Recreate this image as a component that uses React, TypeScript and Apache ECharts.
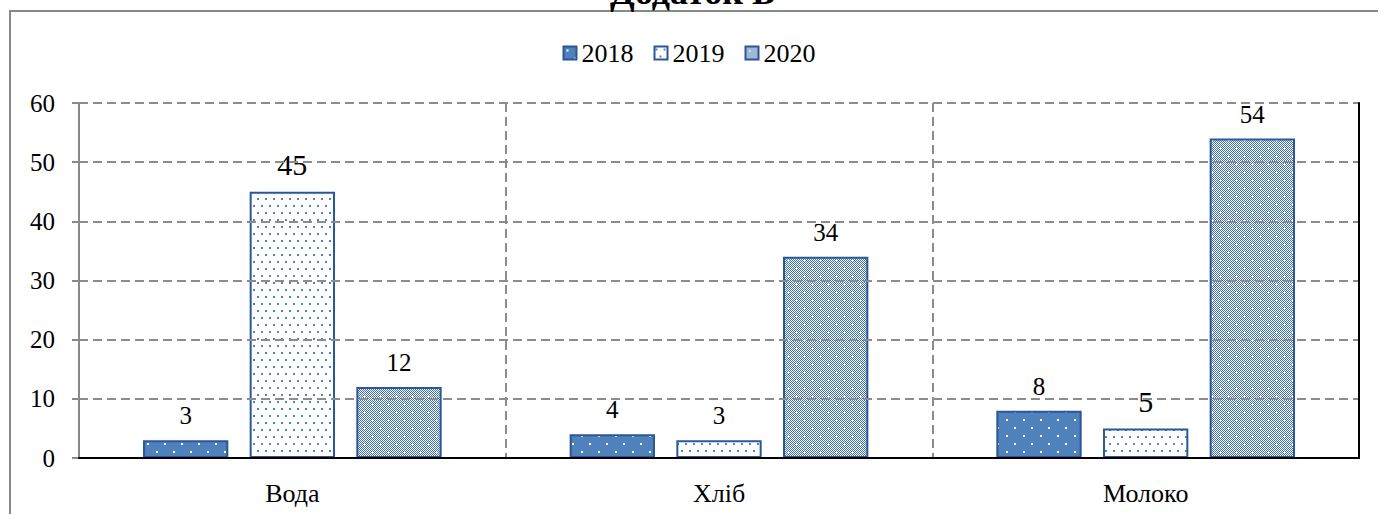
import React, { useEffect, useRef } from "react";
import * as echarts from "echarts";

const categories = ["Вода", "Хліб", "Молоко"];
const seriesNames = ["2018", "2019", "2020"];
const values2018 = [3, 4, 8];
const values2019 = [45, 3, 5];
const values2020 = [12, 34, 54];
const yMin = 0;
const yMax = 60;
const yInterval = 10;
const titleText = "Додаток Б";

const FONT = "Liberation Serif";
const BLUE = "#4F81BD";
const BORDER = "#2B5797";

function makePattern(kind: string) {
  const c = document.createElement("canvas");
  let w = 17, h = 16;
  if (kind === "2019") { w = 8; h = 14; }
  if (kind === "2020") { w = 16; h = 16; }
  c.width = w; c.height = h;
  const ctx = c.getContext("2d")!;
  if (kind === "2018") {
    ctx.fillStyle = BLUE; ctx.fillRect(0, 0, w, h);
    ctx.fillStyle = "#ffffff";
    ctx.fillRect(3, 3, 2, 2);
    ctx.fillRect(11, 11, 2, 2);
  } else if (kind === "2019") {
    ctx.fillStyle = "#ffffff"; ctx.fillRect(0, 0, w, h);
    ctx.fillStyle = BLUE;
    ctx.fillRect(1, 2, 2, 2);
    ctx.fillRect(5, 9, 2, 2);
  } else {
    for (let y = 0; y < h; y++) {
      for (let x = 0; x < w; x++) {
        ctx.fillStyle = (x + y) % 2 === 0 ? "#3F70B0" : "#ffffff";
        ctx.fillRect(x, y, 1, 1);
      }
    }
    ctx.fillStyle = "#ffffff";
    const plus = (px: number, py: number) => {
      ctx.fillRect(px - 1, py, 3, 1);
      ctx.fillRect(px, py - 1, 1, 3);
    };
    plus(4, 4);
    plus(12, 12);
  }
  return { image: c, repeat: "repeat", imageWidth: w, imageHeight: h } as any;
}

export default function App() {
  const ref = useRef<HTMLDivElement>(null);
  useEffect(() => {
    if (!ref.current) return;
    const chart = echarts.init(ref.current, null, { renderer: "svg" });
    const valuesList = [values2018, values2019, values2020];
    const series = seriesNames.map((name, si) => ({
      name,
      type: "bar",
      barWidth: "20%",
      barGap: "25%",
      itemStyle: { color: makePattern(name), borderColor: BORDER, borderWidth: 2 },
      label: { show: true, position: "top", distance: 12, fontFamily: FONT, fontSize: 25, color: "#000" },
      data: valuesList[si].map((v, i) =>
        si === 1 && i !== 1 ? { value: v, label: { fontSize: 30, fontFamily: FONT } } : { value: v }
      ),
    }));
    chart.setOption({
      animation: false,
      graphic: [
        {
          type: "rect",
          z: 0,
          shape: { x: 10, y: 11, width: 1400, height: 600 },
          style: { fill: "none", stroke: "#898989", lineWidth: 2 },
        },
      ],
      legend: {
        top: 35,
        left: "center",
        itemWidth: 13,
        itemHeight: 13,
        itemGap: 20,
        icon: "rect",
        textStyle: { fontFamily: FONT, fontSize: 26, color: "#000" },
        data: seriesNames,
      },
      grid: { left: 79, right: 19, top: 103, bottom: 56 },
      xAxis: [
        {
          type: "category",
          data: categories,
          axisLine: { show: true, lineStyle: { color: "#898989", width: 2 } },
          axisTick: { show: false },
          axisLabel: { fontFamily: FONT, fontSize: 26, color: "#000", margin: 22 },
          splitLine: { show: true, interval: 0, lineStyle: { color: "#8c8c8c", width: 2, type: [9, 5] } },
        },
        {
          type: "category",
          data: categories,
          position: "top",
          z: 5,
          axisLine: { show: true, lineStyle: { color: "#000", width: 2 } },
          axisTick: { show: false },
          axisLabel: { show: false },
          splitLine: { show: false },
        },
      ],
      yAxis: [
        {
          type: "value",
          min: yMin,
          max: yMax,
          interval: yInterval,
          z: 4,
          axisLine: { show: true, lineStyle: { color: "#898989", width: 2 } },
          axisTick: { show: true, length: 7, lineStyle: { color: "#898989", width: 2 } },
          axisLabel: { fontFamily: FONT, fontSize: 25, color: "#000", margin: 24 },
          splitLine: { show: true, lineStyle: { color: "#8c8c8c", width: 2, type: [9, 5] } },
        },
        {
          type: "value",
          min: yMin,
          max: yMax,
          interval: yInterval,
          position: "right",
          z: 5,
          axisLine: { show: true, lineStyle: { color: "#000", width: 2 } },
          axisTick: { show: false },
          axisLabel: { show: false },
          splitLine: { show: false },
        },
      ],
      series,
    });
    return () => chart.dispose();
  }, []);
  return (
    <div>
      <div
        ref={ref}
        style={{ position: "absolute", left: 0, top: 0, width: 1378, height: 514 }}
      />
      <div
        style={{
          position: "absolute",
          left: 0,
          top: -26,
          width: 1386,
          textAlign: "center",
          fontFamily: FONT,
          fontWeight: "bold",
          fontSize: 36,
          lineHeight: "36px",
          color: "#000",
          pointerEvents: "none",
          whiteSpace: "nowrap",
        }}
      >
        {titleText}
      </div>
    </div>
  );
}
